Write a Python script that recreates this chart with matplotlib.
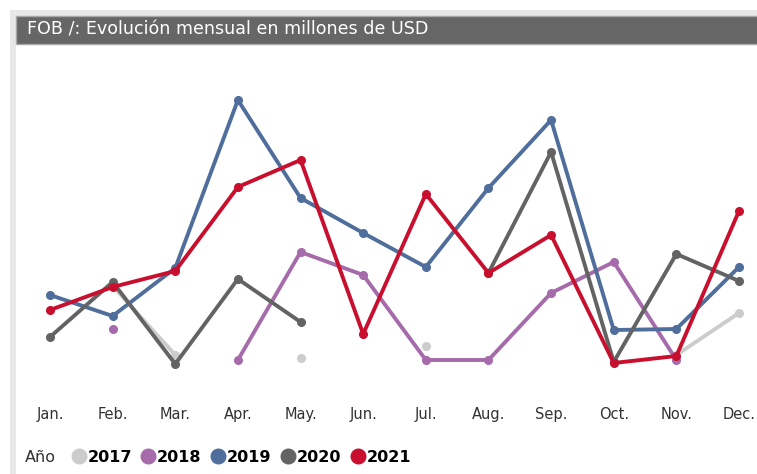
import matplotlib.pyplot as plt
from matplotlib.patches import Rectangle
from matplotlib.lines import Line2D
import numpy as np

# Monthly FOB values (millones de USD)
months = ["Jan.", "Feb.", "Mar.", "Apr.", "May.", "Jun.", "Jul.", "Aug.", "Sep.", "Oct.", "Nov.", "Dec."]
nan = np.nan
fob_2017 = [nan, 114, 45, nan, 42, nan, 54, nan, nan, nan, 45, 87]
fob_2018 = [nan, 71, nan, 40, 148, 125, 40, 40, 107, 138, 40, nan]
fob_2019 = [105, 84, 132, 300, 202, 167, 133, 212, 280, 70, 71, 133]
fob_2020 = [63, 118, 36, 121, 78, nan, nan, 127, 248, 38, 146, 119]
fob_2021 = [90, 113, 129, 213, 240, 66, 206, 127, 165, 37, 44, 189]

years = ["2017", "2018", "2019", "2020", "2021"]
series = [fob_2017, fob_2018, fob_2019, fob_2020, fob_2021]
colors = ["#CCCCCC", "#A66BAA", "#4F6E9B", "#636363", "#C8102E"]

W, H = 757, 474
fig = plt.figure(figsize=(W / 100, H / 100), dpi=100)
fig.patch.set_facecolor("white")

# outer light-gray frame and dark title bar
fig.patches.append(Rectangle((10 / W, 0), 1, (H - 10) / H, transform=fig.transFigure,
                             facecolor="#E8E8E8", edgecolor="none", zorder=0))
fig.patches.append(Rectangle((16 / W, 0), 1, (H - 43) / H, transform=fig.transFigure,
                             facecolor="white", edgecolor="none", zorder=1))
fig.patches.append(Rectangle((16 / W, (H - 44) / H), 1, 28 / H, transform=fig.transFigure,
                             facecolor="#666666", edgecolor="#A8A8A8", linewidth=1, zorder=2))
fig.text(27 / W, (H - 30) / H, "FOB /: Evolución mensual en millones de USD",
         color="white", fontsize=12.6, va="center", ha="left", zorder=3)

ax = fig.add_axes([50 / W, (H - 400) / H, (739 - 50) / W, 320 / H])
ax.set_zorder(5)
ax.set_facecolor("none")
x = np.arange(len(months))
for yr, vals, c in zip(years, series, colors):
    ax.plot(x, vals, color=c, lw=2.8, marker="o", ms=5.5, clip_on=False,
            solid_capstyle="round", label=yr)

ax.set_xlim(0, 11)
ax.set_ylim(0, 320)
ax.set_yticks([])
ax.set_xticks(x)
ax.set_xticklabels(months, fontsize=10.5, color="#333333")
ax.tick_params(axis="x", length=0, pad=5)
for s in ax.spines.values():
    s.set_visible(False)

# legend row
fig.text(25 / W, (H - 457) / H, "Año", fontsize=11.5, color="#333333", va="center", ha="left", zorder=6)
handles = [Line2D([], [], ls="none", marker="o", ms=10.5, color=c) for c in colors]
leg = fig.legend(handles, years, loc="center left", bbox_to_anchor=(65 / W, (H - 457) / H),
                 ncol=5, frameon=False, handlelength=0.9, handletextpad=0.1,
                 columnspacing=0.58, borderaxespad=0, prop={"size": 11.5, "weight": "bold"})
leg.set_zorder(6)

fig.savefig("out.png", dpi=100)
